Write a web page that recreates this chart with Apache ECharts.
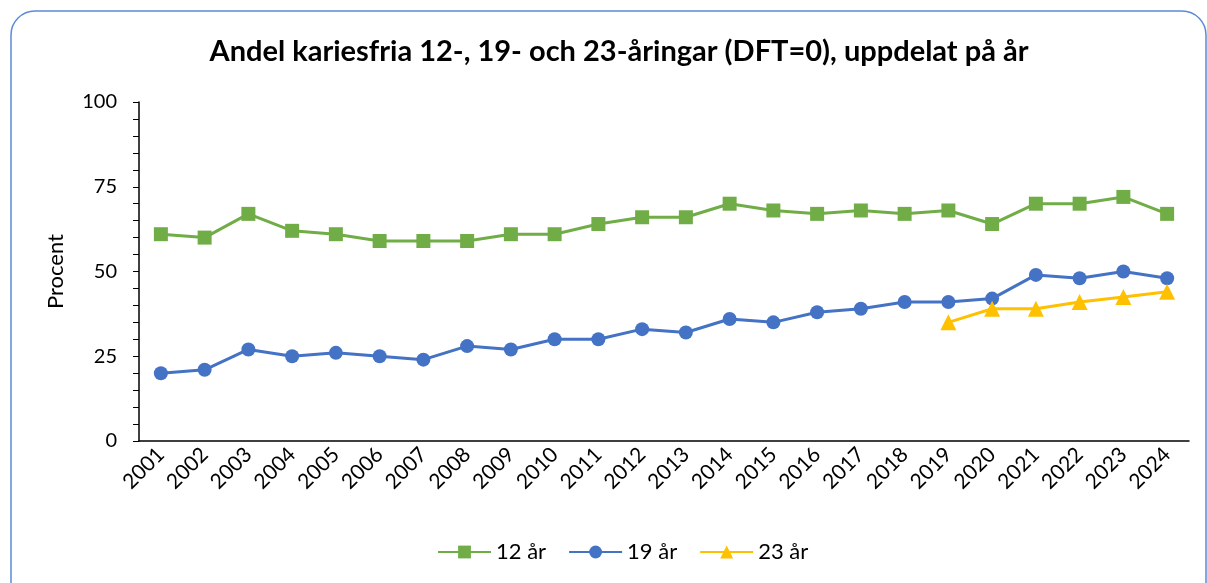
<!DOCTYPE html>
<html>
<head>
<meta charset="utf-8">
<script src="https://cdn.jsdelivr.net/npm/echarts@6/dist/echarts.min.js"></script>
<style>
  html, body { margin: 0; padding: 0; background: #fff; }
  #main { width: 1207px; height: 583px; }
</style>
</head>
<body>
<div id="main"></div>
<script>
// data
var years = ['2001','2002','2003','2004','2005','2006','2007','2008','2009','2010','2011','2012',
             '2013','2014','2015','2016','2017','2018','2019','2020','2021','2022','2023','2024'];
var age12 = [61, 60, 67, 62, 61, 59, 59, 59, 61, 61, 64, 66, 66, 70, 68, 67, 68, 67, 68, 64, 70, 70, 72, 67];
var age19 = [20, 21, 27, 25, 26, 25, 24, 28, 27, 30, 30, 33, 32, 36, 35, 38, 39, 41, 41, 42, 49, 48, 50, 48];
var age23 = [null, null, null, null, null, null, null, null, null, null, null, null,
             null, null, null, null, null, null, 35, 39, 39, 41, 42.5, 44];
var yTicks = [0, 25, 50, 75, 100];

var myChart = echarts.init(document.getElementById('main'));
var font = 'Lato, "Open Sans", sans-serif';

option = {
    animation: false,
    textStyle: { fontFamily: font, color: '#000' },
    graphic: [{
        type: 'rect',
        shape: { x: 11, y: 11, width: 1195, height: 600, r: 24 },
        style: { fill: 'none', stroke: '#5b8bd6', lineWidth: 1.5 },
        silent: true
    }],
    title: {
        text: 'Andel kariesfria 12-, 19- och 23-åringar (DFT=0), uppdelat på år',
        left: 614, top: 32, textAlign: 'center',
        textStyle: { fontFamily: font, fontSize: 29, fontWeight: 'bold', color: '#000' }
    },
    legend: {
        bottom: 15, left: 432,
        itemWidth: 53, itemHeight: 16, itemGap: 22,
        textStyle: { fontFamily: font, fontSize: 22, color: '#000' },
        data: ['12 år', '19 år', '23 år']
    },
    grid: { left: 139, right: 18, top: 102, bottom: 142 },
    xAxis: {
        type: 'category',
        data: years,
        boundaryGap: true,
        axisLine: { lineStyle: { color: '#000', width: 1.5 } },
        axisTick: { alignWithLabel: true, length: 6, lineStyle: { color: '#000' } },
        axisLabel: { rotate: 45, fontSize: 21, color: '#000', margin: 10, fontFamily: font, interval: 0 }
    },
    yAxis: {
        type: 'value',
        min: yTicks[0], max: yTicks[yTicks.length - 1], interval: 25,
        name: 'Procent', nameLocation: 'middle', nameGap: 72,
        nameTextStyle: { fontSize: 22, color: '#000', fontFamily: font },
        axisLine: { show: true, lineStyle: { color: '#000', width: 1.5 } },
        axisTick: { show: true, length: 6, lineStyle: { color: '#000' } },
        minorTick: { show: true, splitNumber: 5, length: 6, lineStyle: { color: '#000' } },
        splitLine: { show: false },
        axisLabel: { fontSize: 20, color: '#000', margin: 22, fontFamily: font }
    },
    series: [{
        name: '12 år', type: 'line', data: age12,
        symbol: 'rect', symbolSize: 14,
        lineStyle: { width: 3, color: '#70ad47' },
        itemStyle: { color: '#70ad47' }
    }, {
        name: '19 år', type: 'line', data: age19,
        symbol: 'circle', symbolSize: 14,
        lineStyle: { width: 3, color: '#4472c4' },
        itemStyle: { color: '#4472c4' }
    }, {
        name: '23 år', type: 'line', data: age23,
        symbol: 'triangle', symbolSize: 16,
        lineStyle: { width: 3, color: '#ffc000' },
        itemStyle: { color: '#ffc000' }
    }]
};

myChart.setOption(option);
</script>
</body>
</html>
